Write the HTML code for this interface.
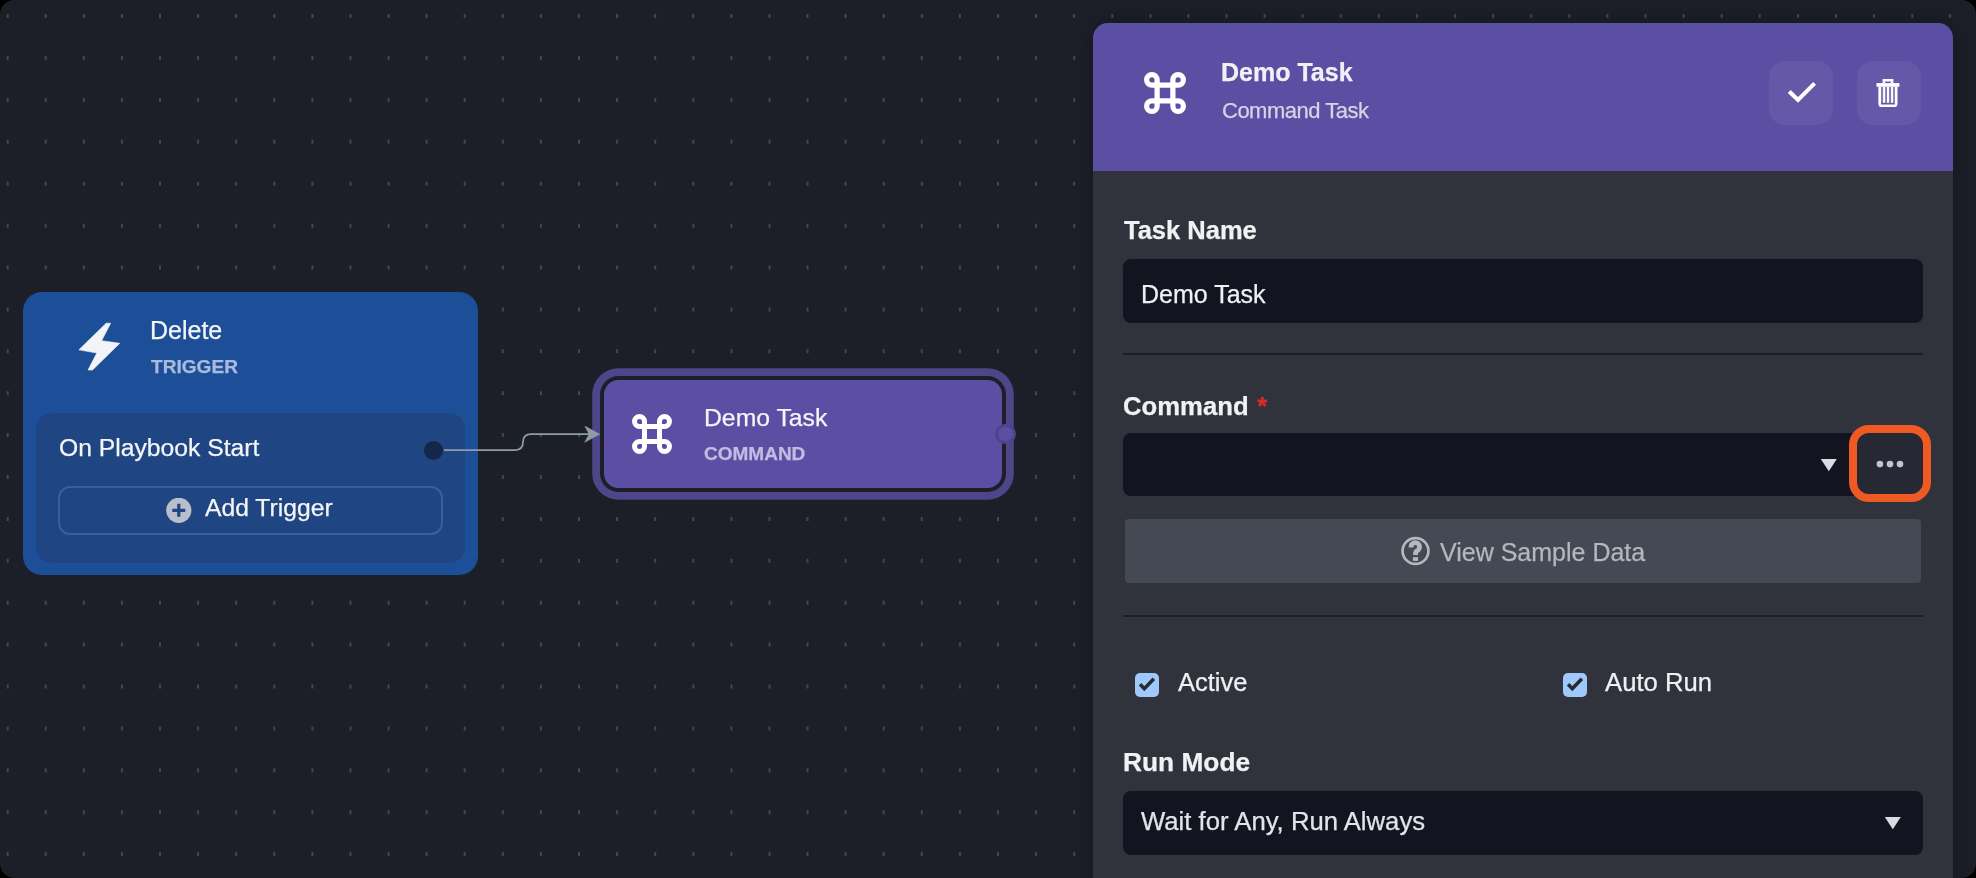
<!DOCTYPE html>
<html><head><meta charset="utf-8">
<style>
html,body{margin:0;padding:0;background:#000;width:1976px;height:878px;overflow:hidden;}
*{box-sizing:border-box;}
body{font-family:"Liberation Sans",sans-serif;}
#win{position:absolute;left:0;top:0;width:1976px;height:878px;border-radius:14.5px;background:#1c1f28;overflow:hidden;}
.abs{position:absolute;}
.t{position:absolute;white-space:nowrap;line-height:1;-webkit-text-stroke:0.25px currentColor;}
svg,.t{will-change:transform;}
#grid{position:absolute;left:0;top:0;}
/* trigger card */
#trig{position:absolute;left:22.9px;top:292.3px;width:455.5px;height:283px;border-radius:19px;background:#1d4f99;}
#trigIn{position:absolute;left:36px;top:413.4px;width:429px;height:149.6px;border-radius:16px;background:#1f4583;}
#addBtn{position:absolute;left:58px;top:486px;width:385px;height:49px;border-radius:12px;border:2px solid rgba(150,178,222,0.24);}
#handle{position:absolute;left:424px;top:441px;width:19px;height:19px;border-radius:50%;background:#142748;}
/* command node */
#node{position:absolute;left:604.1px;top:380px;width:398.1px;height:107.8px;border-radius:14.5px;background:#5b4ea3;
 box-shadow:0 0 0 3.95px #1c1f28,0 0 0 11.8px #4f4589;}
#nhandle{position:absolute;left:995.35px;top:423.55px;width:20.5px;height:20.5px;border-radius:50%;background:#5b4ea3;border:3.3px solid #4e448a;}
/* panel */
#panel{position:absolute;left:1093px;top:23px;width:860px;height:900px;border-radius:15px;background:#30333c;overflow:hidden;
 box-shadow:0 0 20px 2px rgba(0,0,0,0.22);}
#phead{position:absolute;left:0;top:0;width:860px;height:148px;background:#5c4ea3;}
.hbtn{position:absolute;top:38px;width:64px;height:64px;border-radius:16px;background:rgba(255,255,255,0.06);}
.inp{position:absolute;left:30px;width:800px;height:63px;border-radius:8px;background:#12151f;}
.div{position:absolute;left:30px;width:800px;height:2px;background:#1b1e27;}
.lbl{font-weight:bold;color:#f1f2f4;font-size:25.5px;}
.cb{position:absolute;width:24px;height:24px;border-radius:5px;background:#9fc9fb;}
</style></head><body>
<div id="win">
<svg id="grid" width="1976" height="878"><path fill="#474747" d="M6.7 14.1h2v4h-2zM6.7 56.0h2v4h-2zM6.7 97.9h2v4h-2zM6.7 139.8h2v4h-2zM6.7 181.8h2v4h-2zM6.7 223.7h2v4h-2zM6.7 265.5h2v4h-2zM6.7 307.4h2v4h-2zM6.7 349.3h2v4h-2zM6.7 391.2h2v4h-2zM6.7 433.1h2v4h-2zM6.7 475.0h2v4h-2zM6.7 516.9h2v4h-2zM6.7 558.8h2v4h-2zM6.7 600.8h2v4h-2zM6.7 642.6h2v4h-2zM6.7 684.5h2v4h-2zM6.7 726.4h2v4h-2zM6.7 768.3h2v4h-2zM6.7 810.2h2v4h-2zM6.7 852.1h2v4h-2zM44.7 14.1h2v4h-2zM44.7 56.0h2v4h-2zM44.7 97.9h2v4h-2zM44.7 139.8h2v4h-2zM44.7 181.8h2v4h-2zM44.7 223.7h2v4h-2zM44.7 265.5h2v4h-2zM44.7 307.4h2v4h-2zM44.7 349.3h2v4h-2zM44.7 391.2h2v4h-2zM44.7 433.1h2v4h-2zM44.7 475.0h2v4h-2zM44.7 516.9h2v4h-2zM44.7 558.8h2v4h-2zM44.7 600.8h2v4h-2zM44.7 642.6h2v4h-2zM44.7 684.5h2v4h-2zM44.7 726.4h2v4h-2zM44.7 768.3h2v4h-2zM44.7 810.2h2v4h-2zM44.7 852.1h2v4h-2zM82.8 14.1h2v4h-2zM82.8 56.0h2v4h-2zM82.8 97.9h2v4h-2zM82.8 139.8h2v4h-2zM82.8 181.8h2v4h-2zM82.8 223.7h2v4h-2zM82.8 265.5h2v4h-2zM82.8 307.4h2v4h-2zM82.8 349.3h2v4h-2zM82.8 391.2h2v4h-2zM82.8 433.1h2v4h-2zM82.8 475.0h2v4h-2zM82.8 516.9h2v4h-2zM82.8 558.8h2v4h-2zM82.8 600.8h2v4h-2zM82.8 642.6h2v4h-2zM82.8 684.5h2v4h-2zM82.8 726.4h2v4h-2zM82.8 768.3h2v4h-2zM82.8 810.2h2v4h-2zM82.8 852.1h2v4h-2zM120.9 14.1h2v4h-2zM120.9 56.0h2v4h-2zM120.9 97.9h2v4h-2zM120.9 139.8h2v4h-2zM120.9 181.8h2v4h-2zM120.9 223.7h2v4h-2zM120.9 265.5h2v4h-2zM120.9 307.4h2v4h-2zM120.9 349.3h2v4h-2zM120.9 391.2h2v4h-2zM120.9 433.1h2v4h-2zM120.9 475.0h2v4h-2zM120.9 516.9h2v4h-2zM120.9 558.8h2v4h-2zM120.9 600.8h2v4h-2zM120.9 642.6h2v4h-2zM120.9 684.5h2v4h-2zM120.9 726.4h2v4h-2zM120.9 768.3h2v4h-2zM120.9 810.2h2v4h-2zM120.9 852.1h2v4h-2zM159.0 14.1h2v4h-2zM159.0 56.0h2v4h-2zM159.0 97.9h2v4h-2zM159.0 139.8h2v4h-2zM159.0 181.8h2v4h-2zM159.0 223.7h2v4h-2zM159.0 265.5h2v4h-2zM159.0 307.4h2v4h-2zM159.0 349.3h2v4h-2zM159.0 391.2h2v4h-2zM159.0 433.1h2v4h-2zM159.0 475.0h2v4h-2zM159.0 516.9h2v4h-2zM159.0 558.8h2v4h-2zM159.0 600.8h2v4h-2zM159.0 642.6h2v4h-2zM159.0 684.5h2v4h-2zM159.0 726.4h2v4h-2zM159.0 768.3h2v4h-2zM159.0 810.2h2v4h-2zM159.0 852.1h2v4h-2zM197.1 14.1h2v4h-2zM197.1 56.0h2v4h-2zM197.1 97.9h2v4h-2zM197.1 139.8h2v4h-2zM197.1 181.8h2v4h-2zM197.1 223.7h2v4h-2zM197.1 265.5h2v4h-2zM197.1 307.4h2v4h-2zM197.1 349.3h2v4h-2zM197.1 391.2h2v4h-2zM197.1 433.1h2v4h-2zM197.1 475.0h2v4h-2zM197.1 516.9h2v4h-2zM197.1 558.8h2v4h-2zM197.1 600.8h2v4h-2zM197.1 642.6h2v4h-2zM197.1 684.5h2v4h-2zM197.1 726.4h2v4h-2zM197.1 768.3h2v4h-2zM197.1 810.2h2v4h-2zM197.1 852.1h2v4h-2zM235.2 14.1h2v4h-2zM235.2 56.0h2v4h-2zM235.2 97.9h2v4h-2zM235.2 139.8h2v4h-2zM235.2 181.8h2v4h-2zM235.2 223.7h2v4h-2zM235.2 265.5h2v4h-2zM235.2 307.4h2v4h-2zM235.2 349.3h2v4h-2zM235.2 391.2h2v4h-2zM235.2 433.1h2v4h-2zM235.2 475.0h2v4h-2zM235.2 516.9h2v4h-2zM235.2 558.8h2v4h-2zM235.2 600.8h2v4h-2zM235.2 642.6h2v4h-2zM235.2 684.5h2v4h-2zM235.2 726.4h2v4h-2zM235.2 768.3h2v4h-2zM235.2 810.2h2v4h-2zM235.2 852.1h2v4h-2zM273.3 14.1h2v4h-2zM273.3 56.0h2v4h-2zM273.3 97.9h2v4h-2zM273.3 139.8h2v4h-2zM273.3 181.8h2v4h-2zM273.3 223.7h2v4h-2zM273.3 265.5h2v4h-2zM273.3 307.4h2v4h-2zM273.3 349.3h2v4h-2zM273.3 391.2h2v4h-2zM273.3 433.1h2v4h-2zM273.3 475.0h2v4h-2zM273.3 516.9h2v4h-2zM273.3 558.8h2v4h-2zM273.3 600.8h2v4h-2zM273.3 642.6h2v4h-2zM273.3 684.5h2v4h-2zM273.3 726.4h2v4h-2zM273.3 768.3h2v4h-2zM273.3 810.2h2v4h-2zM273.3 852.1h2v4h-2zM311.4 14.1h2v4h-2zM311.4 56.0h2v4h-2zM311.4 97.9h2v4h-2zM311.4 139.8h2v4h-2zM311.4 181.8h2v4h-2zM311.4 223.7h2v4h-2zM311.4 265.5h2v4h-2zM311.4 307.4h2v4h-2zM311.4 349.3h2v4h-2zM311.4 391.2h2v4h-2zM311.4 433.1h2v4h-2zM311.4 475.0h2v4h-2zM311.4 516.9h2v4h-2zM311.4 558.8h2v4h-2zM311.4 600.8h2v4h-2zM311.4 642.6h2v4h-2zM311.4 684.5h2v4h-2zM311.4 726.4h2v4h-2zM311.4 768.3h2v4h-2zM311.4 810.2h2v4h-2zM311.4 852.1h2v4h-2zM349.5 14.1h2v4h-2zM349.5 56.0h2v4h-2zM349.5 97.9h2v4h-2zM349.5 139.8h2v4h-2zM349.5 181.8h2v4h-2zM349.5 223.7h2v4h-2zM349.5 265.5h2v4h-2zM349.5 307.4h2v4h-2zM349.5 349.3h2v4h-2zM349.5 391.2h2v4h-2zM349.5 433.1h2v4h-2zM349.5 475.0h2v4h-2zM349.5 516.9h2v4h-2zM349.5 558.8h2v4h-2zM349.5 600.8h2v4h-2zM349.5 642.6h2v4h-2zM349.5 684.5h2v4h-2zM349.5 726.4h2v4h-2zM349.5 768.3h2v4h-2zM349.5 810.2h2v4h-2zM349.5 852.1h2v4h-2zM387.6 14.1h2v4h-2zM387.6 56.0h2v4h-2zM387.6 97.9h2v4h-2zM387.6 139.8h2v4h-2zM387.6 181.8h2v4h-2zM387.6 223.7h2v4h-2zM387.6 265.5h2v4h-2zM387.6 307.4h2v4h-2zM387.6 349.3h2v4h-2zM387.6 391.2h2v4h-2zM387.6 433.1h2v4h-2zM387.6 475.0h2v4h-2zM387.6 516.9h2v4h-2zM387.6 558.8h2v4h-2zM387.6 600.8h2v4h-2zM387.6 642.6h2v4h-2zM387.6 684.5h2v4h-2zM387.6 726.4h2v4h-2zM387.6 768.3h2v4h-2zM387.6 810.2h2v4h-2zM387.6 852.1h2v4h-2zM425.6 14.1h2v4h-2zM425.6 56.0h2v4h-2zM425.6 97.9h2v4h-2zM425.6 139.8h2v4h-2zM425.6 181.8h2v4h-2zM425.6 223.7h2v4h-2zM425.6 265.5h2v4h-2zM425.6 307.4h2v4h-2zM425.6 349.3h2v4h-2zM425.6 391.2h2v4h-2zM425.6 433.1h2v4h-2zM425.6 475.0h2v4h-2zM425.6 516.9h2v4h-2zM425.6 558.8h2v4h-2zM425.6 600.8h2v4h-2zM425.6 642.6h2v4h-2zM425.6 684.5h2v4h-2zM425.6 726.4h2v4h-2zM425.6 768.3h2v4h-2zM425.6 810.2h2v4h-2zM425.6 852.1h2v4h-2zM463.7 14.1h2v4h-2zM463.7 56.0h2v4h-2zM463.7 97.9h2v4h-2zM463.7 139.8h2v4h-2zM463.7 181.8h2v4h-2zM463.7 223.7h2v4h-2zM463.7 265.5h2v4h-2zM463.7 307.4h2v4h-2zM463.7 349.3h2v4h-2zM463.7 391.2h2v4h-2zM463.7 433.1h2v4h-2zM463.7 475.0h2v4h-2zM463.7 516.9h2v4h-2zM463.7 558.8h2v4h-2zM463.7 600.8h2v4h-2zM463.7 642.6h2v4h-2zM463.7 684.5h2v4h-2zM463.7 726.4h2v4h-2zM463.7 768.3h2v4h-2zM463.7 810.2h2v4h-2zM463.7 852.1h2v4h-2zM501.8 14.1h2v4h-2zM501.8 56.0h2v4h-2zM501.8 97.9h2v4h-2zM501.8 139.8h2v4h-2zM501.8 181.8h2v4h-2zM501.8 223.7h2v4h-2zM501.8 265.5h2v4h-2zM501.8 307.4h2v4h-2zM501.8 349.3h2v4h-2zM501.8 391.2h2v4h-2zM501.8 433.1h2v4h-2zM501.8 475.0h2v4h-2zM501.8 516.9h2v4h-2zM501.8 558.8h2v4h-2zM501.8 600.8h2v4h-2zM501.8 642.6h2v4h-2zM501.8 684.5h2v4h-2zM501.8 726.4h2v4h-2zM501.8 768.3h2v4h-2zM501.8 810.2h2v4h-2zM501.8 852.1h2v4h-2zM539.9 14.1h2v4h-2zM539.9 56.0h2v4h-2zM539.9 97.9h2v4h-2zM539.9 139.8h2v4h-2zM539.9 181.8h2v4h-2zM539.9 223.7h2v4h-2zM539.9 265.5h2v4h-2zM539.9 307.4h2v4h-2zM539.9 349.3h2v4h-2zM539.9 391.2h2v4h-2zM539.9 433.1h2v4h-2zM539.9 475.0h2v4h-2zM539.9 516.9h2v4h-2zM539.9 558.8h2v4h-2zM539.9 600.8h2v4h-2zM539.9 642.6h2v4h-2zM539.9 684.5h2v4h-2zM539.9 726.4h2v4h-2zM539.9 768.3h2v4h-2zM539.9 810.2h2v4h-2zM539.9 852.1h2v4h-2zM578.0 14.1h2v4h-2zM578.0 56.0h2v4h-2zM578.0 97.9h2v4h-2zM578.0 139.8h2v4h-2zM578.0 181.8h2v4h-2zM578.0 223.7h2v4h-2zM578.0 265.5h2v4h-2zM578.0 307.4h2v4h-2zM578.0 349.3h2v4h-2zM578.0 391.2h2v4h-2zM578.0 433.1h2v4h-2zM578.0 475.0h2v4h-2zM578.0 516.9h2v4h-2zM578.0 558.8h2v4h-2zM578.0 600.8h2v4h-2zM578.0 642.6h2v4h-2zM578.0 684.5h2v4h-2zM578.0 726.4h2v4h-2zM578.0 768.3h2v4h-2zM578.0 810.2h2v4h-2zM578.0 852.1h2v4h-2zM616.1 14.1h2v4h-2zM616.1 56.0h2v4h-2zM616.1 97.9h2v4h-2zM616.1 139.8h2v4h-2zM616.1 181.8h2v4h-2zM616.1 223.7h2v4h-2zM616.1 265.5h2v4h-2zM616.1 307.4h2v4h-2zM616.1 349.3h2v4h-2zM616.1 391.2h2v4h-2zM616.1 433.1h2v4h-2zM616.1 475.0h2v4h-2zM616.1 516.9h2v4h-2zM616.1 558.8h2v4h-2zM616.1 600.8h2v4h-2zM616.1 642.6h2v4h-2zM616.1 684.5h2v4h-2zM616.1 726.4h2v4h-2zM616.1 768.3h2v4h-2zM616.1 810.2h2v4h-2zM616.1 852.1h2v4h-2zM654.2 14.1h2v4h-2zM654.2 56.0h2v4h-2zM654.2 97.9h2v4h-2zM654.2 139.8h2v4h-2zM654.2 181.8h2v4h-2zM654.2 223.7h2v4h-2zM654.2 265.5h2v4h-2zM654.2 307.4h2v4h-2zM654.2 349.3h2v4h-2zM654.2 391.2h2v4h-2zM654.2 433.1h2v4h-2zM654.2 475.0h2v4h-2zM654.2 516.9h2v4h-2zM654.2 558.8h2v4h-2zM654.2 600.8h2v4h-2zM654.2 642.6h2v4h-2zM654.2 684.5h2v4h-2zM654.2 726.4h2v4h-2zM654.2 768.3h2v4h-2zM654.2 810.2h2v4h-2zM654.2 852.1h2v4h-2zM692.3 14.1h2v4h-2zM692.3 56.0h2v4h-2zM692.3 97.9h2v4h-2zM692.3 139.8h2v4h-2zM692.3 181.8h2v4h-2zM692.3 223.7h2v4h-2zM692.3 265.5h2v4h-2zM692.3 307.4h2v4h-2zM692.3 349.3h2v4h-2zM692.3 391.2h2v4h-2zM692.3 433.1h2v4h-2zM692.3 475.0h2v4h-2zM692.3 516.9h2v4h-2zM692.3 558.8h2v4h-2zM692.3 600.8h2v4h-2zM692.3 642.6h2v4h-2zM692.3 684.5h2v4h-2zM692.3 726.4h2v4h-2zM692.3 768.3h2v4h-2zM692.3 810.2h2v4h-2zM692.3 852.1h2v4h-2zM730.4 14.1h2v4h-2zM730.4 56.0h2v4h-2zM730.4 97.9h2v4h-2zM730.4 139.8h2v4h-2zM730.4 181.8h2v4h-2zM730.4 223.7h2v4h-2zM730.4 265.5h2v4h-2zM730.4 307.4h2v4h-2zM730.4 349.3h2v4h-2zM730.4 391.2h2v4h-2zM730.4 433.1h2v4h-2zM730.4 475.0h2v4h-2zM730.4 516.9h2v4h-2zM730.4 558.8h2v4h-2zM730.4 600.8h2v4h-2zM730.4 642.6h2v4h-2zM730.4 684.5h2v4h-2zM730.4 726.4h2v4h-2zM730.4 768.3h2v4h-2zM730.4 810.2h2v4h-2zM730.4 852.1h2v4h-2zM768.5 14.1h2v4h-2zM768.5 56.0h2v4h-2zM768.5 97.9h2v4h-2zM768.5 139.8h2v4h-2zM768.5 181.8h2v4h-2zM768.5 223.7h2v4h-2zM768.5 265.5h2v4h-2zM768.5 307.4h2v4h-2zM768.5 349.3h2v4h-2zM768.5 391.2h2v4h-2zM768.5 433.1h2v4h-2zM768.5 475.0h2v4h-2zM768.5 516.9h2v4h-2zM768.5 558.8h2v4h-2zM768.5 600.8h2v4h-2zM768.5 642.6h2v4h-2zM768.5 684.5h2v4h-2zM768.5 726.4h2v4h-2zM768.5 768.3h2v4h-2zM768.5 810.2h2v4h-2zM768.5 852.1h2v4h-2zM806.5 14.1h2v4h-2zM806.5 56.0h2v4h-2zM806.5 97.9h2v4h-2zM806.5 139.8h2v4h-2zM806.5 181.8h2v4h-2zM806.5 223.7h2v4h-2zM806.5 265.5h2v4h-2zM806.5 307.4h2v4h-2zM806.5 349.3h2v4h-2zM806.5 391.2h2v4h-2zM806.5 433.1h2v4h-2zM806.5 475.0h2v4h-2zM806.5 516.9h2v4h-2zM806.5 558.8h2v4h-2zM806.5 600.8h2v4h-2zM806.5 642.6h2v4h-2zM806.5 684.5h2v4h-2zM806.5 726.4h2v4h-2zM806.5 768.3h2v4h-2zM806.5 810.2h2v4h-2zM806.5 852.1h2v4h-2zM844.6 14.1h2v4h-2zM844.6 56.0h2v4h-2zM844.6 97.9h2v4h-2zM844.6 139.8h2v4h-2zM844.6 181.8h2v4h-2zM844.6 223.7h2v4h-2zM844.6 265.5h2v4h-2zM844.6 307.4h2v4h-2zM844.6 349.3h2v4h-2zM844.6 391.2h2v4h-2zM844.6 433.1h2v4h-2zM844.6 475.0h2v4h-2zM844.6 516.9h2v4h-2zM844.6 558.8h2v4h-2zM844.6 600.8h2v4h-2zM844.6 642.6h2v4h-2zM844.6 684.5h2v4h-2zM844.6 726.4h2v4h-2zM844.6 768.3h2v4h-2zM844.6 810.2h2v4h-2zM844.6 852.1h2v4h-2zM882.7 14.1h2v4h-2zM882.7 56.0h2v4h-2zM882.7 97.9h2v4h-2zM882.7 139.8h2v4h-2zM882.7 181.8h2v4h-2zM882.7 223.7h2v4h-2zM882.7 265.5h2v4h-2zM882.7 307.4h2v4h-2zM882.7 349.3h2v4h-2zM882.7 391.2h2v4h-2zM882.7 433.1h2v4h-2zM882.7 475.0h2v4h-2zM882.7 516.9h2v4h-2zM882.7 558.8h2v4h-2zM882.7 600.8h2v4h-2zM882.7 642.6h2v4h-2zM882.7 684.5h2v4h-2zM882.7 726.4h2v4h-2zM882.7 768.3h2v4h-2zM882.7 810.2h2v4h-2zM882.7 852.1h2v4h-2zM920.8 14.1h2v4h-2zM920.8 56.0h2v4h-2zM920.8 97.9h2v4h-2zM920.8 139.8h2v4h-2zM920.8 181.8h2v4h-2zM920.8 223.7h2v4h-2zM920.8 265.5h2v4h-2zM920.8 307.4h2v4h-2zM920.8 349.3h2v4h-2zM920.8 391.2h2v4h-2zM920.8 433.1h2v4h-2zM920.8 475.0h2v4h-2zM920.8 516.9h2v4h-2zM920.8 558.8h2v4h-2zM920.8 600.8h2v4h-2zM920.8 642.6h2v4h-2zM920.8 684.5h2v4h-2zM920.8 726.4h2v4h-2zM920.8 768.3h2v4h-2zM920.8 810.2h2v4h-2zM920.8 852.1h2v4h-2zM958.9 14.1h2v4h-2zM958.9 56.0h2v4h-2zM958.9 97.9h2v4h-2zM958.9 139.8h2v4h-2zM958.9 181.8h2v4h-2zM958.9 223.7h2v4h-2zM958.9 265.5h2v4h-2zM958.9 307.4h2v4h-2zM958.9 349.3h2v4h-2zM958.9 391.2h2v4h-2zM958.9 433.1h2v4h-2zM958.9 475.0h2v4h-2zM958.9 516.9h2v4h-2zM958.9 558.8h2v4h-2zM958.9 600.8h2v4h-2zM958.9 642.6h2v4h-2zM958.9 684.5h2v4h-2zM958.9 726.4h2v4h-2zM958.9 768.3h2v4h-2zM958.9 810.2h2v4h-2zM958.9 852.1h2v4h-2zM997.0 14.1h2v4h-2zM997.0 56.0h2v4h-2zM997.0 97.9h2v4h-2zM997.0 139.8h2v4h-2zM997.0 181.8h2v4h-2zM997.0 223.7h2v4h-2zM997.0 265.5h2v4h-2zM997.0 307.4h2v4h-2zM997.0 349.3h2v4h-2zM997.0 391.2h2v4h-2zM997.0 433.1h2v4h-2zM997.0 475.0h2v4h-2zM997.0 516.9h2v4h-2zM997.0 558.8h2v4h-2zM997.0 600.8h2v4h-2zM997.0 642.6h2v4h-2zM997.0 684.5h2v4h-2zM997.0 726.4h2v4h-2zM997.0 768.3h2v4h-2zM997.0 810.2h2v4h-2zM997.0 852.1h2v4h-2zM1035.1 14.1h2v4h-2zM1035.1 56.0h2v4h-2zM1035.1 97.9h2v4h-2zM1035.1 139.8h2v4h-2zM1035.1 181.8h2v4h-2zM1035.1 223.7h2v4h-2zM1035.1 265.5h2v4h-2zM1035.1 307.4h2v4h-2zM1035.1 349.3h2v4h-2zM1035.1 391.2h2v4h-2zM1035.1 433.1h2v4h-2zM1035.1 475.0h2v4h-2zM1035.1 516.9h2v4h-2zM1035.1 558.8h2v4h-2zM1035.1 600.8h2v4h-2zM1035.1 642.6h2v4h-2zM1035.1 684.5h2v4h-2zM1035.1 726.4h2v4h-2zM1035.1 768.3h2v4h-2zM1035.1 810.2h2v4h-2zM1035.1 852.1h2v4h-2zM1073.2 14.1h2v4h-2zM1073.2 56.0h2v4h-2zM1073.2 97.9h2v4h-2zM1073.2 139.8h2v4h-2zM1073.2 181.8h2v4h-2zM1073.2 223.7h2v4h-2zM1073.2 265.5h2v4h-2zM1073.2 307.4h2v4h-2zM1073.2 349.3h2v4h-2zM1073.2 391.2h2v4h-2zM1073.2 433.1h2v4h-2zM1073.2 475.0h2v4h-2zM1073.2 516.9h2v4h-2zM1073.2 558.8h2v4h-2zM1073.2 600.8h2v4h-2zM1073.2 642.6h2v4h-2zM1073.2 684.5h2v4h-2zM1073.2 726.4h2v4h-2zM1073.2 768.3h2v4h-2zM1073.2 810.2h2v4h-2zM1073.2 852.1h2v4h-2zM1111.3 14.1h2v4h-2zM1111.3 56.0h2v4h-2zM1111.3 97.9h2v4h-2zM1111.3 139.8h2v4h-2zM1111.3 181.8h2v4h-2zM1111.3 223.7h2v4h-2zM1111.3 265.5h2v4h-2zM1111.3 307.4h2v4h-2zM1111.3 349.3h2v4h-2zM1111.3 391.2h2v4h-2zM1111.3 433.1h2v4h-2zM1111.3 475.0h2v4h-2zM1111.3 516.9h2v4h-2zM1111.3 558.8h2v4h-2zM1111.3 600.8h2v4h-2zM1111.3 642.6h2v4h-2zM1111.3 684.5h2v4h-2zM1111.3 726.4h2v4h-2zM1111.3 768.3h2v4h-2zM1111.3 810.2h2v4h-2zM1111.3 852.1h2v4h-2zM1149.4 14.1h2v4h-2zM1149.4 56.0h2v4h-2zM1149.4 97.9h2v4h-2zM1149.4 139.8h2v4h-2zM1149.4 181.8h2v4h-2zM1149.4 223.7h2v4h-2zM1149.4 265.5h2v4h-2zM1149.4 307.4h2v4h-2zM1149.4 349.3h2v4h-2zM1149.4 391.2h2v4h-2zM1149.4 433.1h2v4h-2zM1149.4 475.0h2v4h-2zM1149.4 516.9h2v4h-2zM1149.4 558.8h2v4h-2zM1149.4 600.8h2v4h-2zM1149.4 642.6h2v4h-2zM1149.4 684.5h2v4h-2zM1149.4 726.4h2v4h-2zM1149.4 768.3h2v4h-2zM1149.4 810.2h2v4h-2zM1149.4 852.1h2v4h-2zM1187.4 14.1h2v4h-2zM1187.4 56.0h2v4h-2zM1187.4 97.9h2v4h-2zM1187.4 139.8h2v4h-2zM1187.4 181.8h2v4h-2zM1187.4 223.7h2v4h-2zM1187.4 265.5h2v4h-2zM1187.4 307.4h2v4h-2zM1187.4 349.3h2v4h-2zM1187.4 391.2h2v4h-2zM1187.4 433.1h2v4h-2zM1187.4 475.0h2v4h-2zM1187.4 516.9h2v4h-2zM1187.4 558.8h2v4h-2zM1187.4 600.8h2v4h-2zM1187.4 642.6h2v4h-2zM1187.4 684.5h2v4h-2zM1187.4 726.4h2v4h-2zM1187.4 768.3h2v4h-2zM1187.4 810.2h2v4h-2zM1187.4 852.1h2v4h-2zM1225.5 14.1h2v4h-2zM1225.5 56.0h2v4h-2zM1225.5 97.9h2v4h-2zM1225.5 139.8h2v4h-2zM1225.5 181.8h2v4h-2zM1225.5 223.7h2v4h-2zM1225.5 265.5h2v4h-2zM1225.5 307.4h2v4h-2zM1225.5 349.3h2v4h-2zM1225.5 391.2h2v4h-2zM1225.5 433.1h2v4h-2zM1225.5 475.0h2v4h-2zM1225.5 516.9h2v4h-2zM1225.5 558.8h2v4h-2zM1225.5 600.8h2v4h-2zM1225.5 642.6h2v4h-2zM1225.5 684.5h2v4h-2zM1225.5 726.4h2v4h-2zM1225.5 768.3h2v4h-2zM1225.5 810.2h2v4h-2zM1225.5 852.1h2v4h-2zM1263.6 14.1h2v4h-2zM1263.6 56.0h2v4h-2zM1263.6 97.9h2v4h-2zM1263.6 139.8h2v4h-2zM1263.6 181.8h2v4h-2zM1263.6 223.7h2v4h-2zM1263.6 265.5h2v4h-2zM1263.6 307.4h2v4h-2zM1263.6 349.3h2v4h-2zM1263.6 391.2h2v4h-2zM1263.6 433.1h2v4h-2zM1263.6 475.0h2v4h-2zM1263.6 516.9h2v4h-2zM1263.6 558.8h2v4h-2zM1263.6 600.8h2v4h-2zM1263.6 642.6h2v4h-2zM1263.6 684.5h2v4h-2zM1263.6 726.4h2v4h-2zM1263.6 768.3h2v4h-2zM1263.6 810.2h2v4h-2zM1263.6 852.1h2v4h-2zM1301.7 14.1h2v4h-2zM1301.7 56.0h2v4h-2zM1301.7 97.9h2v4h-2zM1301.7 139.8h2v4h-2zM1301.7 181.8h2v4h-2zM1301.7 223.7h2v4h-2zM1301.7 265.5h2v4h-2zM1301.7 307.4h2v4h-2zM1301.7 349.3h2v4h-2zM1301.7 391.2h2v4h-2zM1301.7 433.1h2v4h-2zM1301.7 475.0h2v4h-2zM1301.7 516.9h2v4h-2zM1301.7 558.8h2v4h-2zM1301.7 600.8h2v4h-2zM1301.7 642.6h2v4h-2zM1301.7 684.5h2v4h-2zM1301.7 726.4h2v4h-2zM1301.7 768.3h2v4h-2zM1301.7 810.2h2v4h-2zM1301.7 852.1h2v4h-2zM1339.8 14.1h2v4h-2zM1339.8 56.0h2v4h-2zM1339.8 97.9h2v4h-2zM1339.8 139.8h2v4h-2zM1339.8 181.8h2v4h-2zM1339.8 223.7h2v4h-2zM1339.8 265.5h2v4h-2zM1339.8 307.4h2v4h-2zM1339.8 349.3h2v4h-2zM1339.8 391.2h2v4h-2zM1339.8 433.1h2v4h-2zM1339.8 475.0h2v4h-2zM1339.8 516.9h2v4h-2zM1339.8 558.8h2v4h-2zM1339.8 600.8h2v4h-2zM1339.8 642.6h2v4h-2zM1339.8 684.5h2v4h-2zM1339.8 726.4h2v4h-2zM1339.8 768.3h2v4h-2zM1339.8 810.2h2v4h-2zM1339.8 852.1h2v4h-2zM1377.9 14.1h2v4h-2zM1377.9 56.0h2v4h-2zM1377.9 97.9h2v4h-2zM1377.9 139.8h2v4h-2zM1377.9 181.8h2v4h-2zM1377.9 223.7h2v4h-2zM1377.9 265.5h2v4h-2zM1377.9 307.4h2v4h-2zM1377.9 349.3h2v4h-2zM1377.9 391.2h2v4h-2zM1377.9 433.1h2v4h-2zM1377.9 475.0h2v4h-2zM1377.9 516.9h2v4h-2zM1377.9 558.8h2v4h-2zM1377.9 600.8h2v4h-2zM1377.9 642.6h2v4h-2zM1377.9 684.5h2v4h-2zM1377.9 726.4h2v4h-2zM1377.9 768.3h2v4h-2zM1377.9 810.2h2v4h-2zM1377.9 852.1h2v4h-2zM1416.0 14.1h2v4h-2zM1416.0 56.0h2v4h-2zM1416.0 97.9h2v4h-2zM1416.0 139.8h2v4h-2zM1416.0 181.8h2v4h-2zM1416.0 223.7h2v4h-2zM1416.0 265.5h2v4h-2zM1416.0 307.4h2v4h-2zM1416.0 349.3h2v4h-2zM1416.0 391.2h2v4h-2zM1416.0 433.1h2v4h-2zM1416.0 475.0h2v4h-2zM1416.0 516.9h2v4h-2zM1416.0 558.8h2v4h-2zM1416.0 600.8h2v4h-2zM1416.0 642.6h2v4h-2zM1416.0 684.5h2v4h-2zM1416.0 726.4h2v4h-2zM1416.0 768.3h2v4h-2zM1416.0 810.2h2v4h-2zM1416.0 852.1h2v4h-2zM1454.1 14.1h2v4h-2zM1454.1 56.0h2v4h-2zM1454.1 97.9h2v4h-2zM1454.1 139.8h2v4h-2zM1454.1 181.8h2v4h-2zM1454.1 223.7h2v4h-2zM1454.1 265.5h2v4h-2zM1454.1 307.4h2v4h-2zM1454.1 349.3h2v4h-2zM1454.1 391.2h2v4h-2zM1454.1 433.1h2v4h-2zM1454.1 475.0h2v4h-2zM1454.1 516.9h2v4h-2zM1454.1 558.8h2v4h-2zM1454.1 600.8h2v4h-2zM1454.1 642.6h2v4h-2zM1454.1 684.5h2v4h-2zM1454.1 726.4h2v4h-2zM1454.1 768.3h2v4h-2zM1454.1 810.2h2v4h-2zM1454.1 852.1h2v4h-2zM1492.2 14.1h2v4h-2zM1492.2 56.0h2v4h-2zM1492.2 97.9h2v4h-2zM1492.2 139.8h2v4h-2zM1492.2 181.8h2v4h-2zM1492.2 223.7h2v4h-2zM1492.2 265.5h2v4h-2zM1492.2 307.4h2v4h-2zM1492.2 349.3h2v4h-2zM1492.2 391.2h2v4h-2zM1492.2 433.1h2v4h-2zM1492.2 475.0h2v4h-2zM1492.2 516.9h2v4h-2zM1492.2 558.8h2v4h-2zM1492.2 600.8h2v4h-2zM1492.2 642.6h2v4h-2zM1492.2 684.5h2v4h-2zM1492.2 726.4h2v4h-2zM1492.2 768.3h2v4h-2zM1492.2 810.2h2v4h-2zM1492.2 852.1h2v4h-2zM1530.3 14.1h2v4h-2zM1530.3 56.0h2v4h-2zM1530.3 97.9h2v4h-2zM1530.3 139.8h2v4h-2zM1530.3 181.8h2v4h-2zM1530.3 223.7h2v4h-2zM1530.3 265.5h2v4h-2zM1530.3 307.4h2v4h-2zM1530.3 349.3h2v4h-2zM1530.3 391.2h2v4h-2zM1530.3 433.1h2v4h-2zM1530.3 475.0h2v4h-2zM1530.3 516.9h2v4h-2zM1530.3 558.8h2v4h-2zM1530.3 600.8h2v4h-2zM1530.3 642.6h2v4h-2zM1530.3 684.5h2v4h-2zM1530.3 726.4h2v4h-2zM1530.3 768.3h2v4h-2zM1530.3 810.2h2v4h-2zM1530.3 852.1h2v4h-2zM1568.3 14.1h2v4h-2zM1568.3 56.0h2v4h-2zM1568.3 97.9h2v4h-2zM1568.3 139.8h2v4h-2zM1568.3 181.8h2v4h-2zM1568.3 223.7h2v4h-2zM1568.3 265.5h2v4h-2zM1568.3 307.4h2v4h-2zM1568.3 349.3h2v4h-2zM1568.3 391.2h2v4h-2zM1568.3 433.1h2v4h-2zM1568.3 475.0h2v4h-2zM1568.3 516.9h2v4h-2zM1568.3 558.8h2v4h-2zM1568.3 600.8h2v4h-2zM1568.3 642.6h2v4h-2zM1568.3 684.5h2v4h-2zM1568.3 726.4h2v4h-2zM1568.3 768.3h2v4h-2zM1568.3 810.2h2v4h-2zM1568.3 852.1h2v4h-2zM1606.4 14.1h2v4h-2zM1606.4 56.0h2v4h-2zM1606.4 97.9h2v4h-2zM1606.4 139.8h2v4h-2zM1606.4 181.8h2v4h-2zM1606.4 223.7h2v4h-2zM1606.4 265.5h2v4h-2zM1606.4 307.4h2v4h-2zM1606.4 349.3h2v4h-2zM1606.4 391.2h2v4h-2zM1606.4 433.1h2v4h-2zM1606.4 475.0h2v4h-2zM1606.4 516.9h2v4h-2zM1606.4 558.8h2v4h-2zM1606.4 600.8h2v4h-2zM1606.4 642.6h2v4h-2zM1606.4 684.5h2v4h-2zM1606.4 726.4h2v4h-2zM1606.4 768.3h2v4h-2zM1606.4 810.2h2v4h-2zM1606.4 852.1h2v4h-2zM1644.5 14.1h2v4h-2zM1644.5 56.0h2v4h-2zM1644.5 97.9h2v4h-2zM1644.5 139.8h2v4h-2zM1644.5 181.8h2v4h-2zM1644.5 223.7h2v4h-2zM1644.5 265.5h2v4h-2zM1644.5 307.4h2v4h-2zM1644.5 349.3h2v4h-2zM1644.5 391.2h2v4h-2zM1644.5 433.1h2v4h-2zM1644.5 475.0h2v4h-2zM1644.5 516.9h2v4h-2zM1644.5 558.8h2v4h-2zM1644.5 600.8h2v4h-2zM1644.5 642.6h2v4h-2zM1644.5 684.5h2v4h-2zM1644.5 726.4h2v4h-2zM1644.5 768.3h2v4h-2zM1644.5 810.2h2v4h-2zM1644.5 852.1h2v4h-2zM1682.6 14.1h2v4h-2zM1682.6 56.0h2v4h-2zM1682.6 97.9h2v4h-2zM1682.6 139.8h2v4h-2zM1682.6 181.8h2v4h-2zM1682.6 223.7h2v4h-2zM1682.6 265.5h2v4h-2zM1682.6 307.4h2v4h-2zM1682.6 349.3h2v4h-2zM1682.6 391.2h2v4h-2zM1682.6 433.1h2v4h-2zM1682.6 475.0h2v4h-2zM1682.6 516.9h2v4h-2zM1682.6 558.8h2v4h-2zM1682.6 600.8h2v4h-2zM1682.6 642.6h2v4h-2zM1682.6 684.5h2v4h-2zM1682.6 726.4h2v4h-2zM1682.6 768.3h2v4h-2zM1682.6 810.2h2v4h-2zM1682.6 852.1h2v4h-2zM1720.7 14.1h2v4h-2zM1720.7 56.0h2v4h-2zM1720.7 97.9h2v4h-2zM1720.7 139.8h2v4h-2zM1720.7 181.8h2v4h-2zM1720.7 223.7h2v4h-2zM1720.7 265.5h2v4h-2zM1720.7 307.4h2v4h-2zM1720.7 349.3h2v4h-2zM1720.7 391.2h2v4h-2zM1720.7 433.1h2v4h-2zM1720.7 475.0h2v4h-2zM1720.7 516.9h2v4h-2zM1720.7 558.8h2v4h-2zM1720.7 600.8h2v4h-2zM1720.7 642.6h2v4h-2zM1720.7 684.5h2v4h-2zM1720.7 726.4h2v4h-2zM1720.7 768.3h2v4h-2zM1720.7 810.2h2v4h-2zM1720.7 852.1h2v4h-2zM1758.8 14.1h2v4h-2zM1758.8 56.0h2v4h-2zM1758.8 97.9h2v4h-2zM1758.8 139.8h2v4h-2zM1758.8 181.8h2v4h-2zM1758.8 223.7h2v4h-2zM1758.8 265.5h2v4h-2zM1758.8 307.4h2v4h-2zM1758.8 349.3h2v4h-2zM1758.8 391.2h2v4h-2zM1758.8 433.1h2v4h-2zM1758.8 475.0h2v4h-2zM1758.8 516.9h2v4h-2zM1758.8 558.8h2v4h-2zM1758.8 600.8h2v4h-2zM1758.8 642.6h2v4h-2zM1758.8 684.5h2v4h-2zM1758.8 726.4h2v4h-2zM1758.8 768.3h2v4h-2zM1758.8 810.2h2v4h-2zM1758.8 852.1h2v4h-2zM1796.9 14.1h2v4h-2zM1796.9 56.0h2v4h-2zM1796.9 97.9h2v4h-2zM1796.9 139.8h2v4h-2zM1796.9 181.8h2v4h-2zM1796.9 223.7h2v4h-2zM1796.9 265.5h2v4h-2zM1796.9 307.4h2v4h-2zM1796.9 349.3h2v4h-2zM1796.9 391.2h2v4h-2zM1796.9 433.1h2v4h-2zM1796.9 475.0h2v4h-2zM1796.9 516.9h2v4h-2zM1796.9 558.8h2v4h-2zM1796.9 600.8h2v4h-2zM1796.9 642.6h2v4h-2zM1796.9 684.5h2v4h-2zM1796.9 726.4h2v4h-2zM1796.9 768.3h2v4h-2zM1796.9 810.2h2v4h-2zM1796.9 852.1h2v4h-2zM1835.0 14.1h2v4h-2zM1835.0 56.0h2v4h-2zM1835.0 97.9h2v4h-2zM1835.0 139.8h2v4h-2zM1835.0 181.8h2v4h-2zM1835.0 223.7h2v4h-2zM1835.0 265.5h2v4h-2zM1835.0 307.4h2v4h-2zM1835.0 349.3h2v4h-2zM1835.0 391.2h2v4h-2zM1835.0 433.1h2v4h-2zM1835.0 475.0h2v4h-2zM1835.0 516.9h2v4h-2zM1835.0 558.8h2v4h-2zM1835.0 600.8h2v4h-2zM1835.0 642.6h2v4h-2zM1835.0 684.5h2v4h-2zM1835.0 726.4h2v4h-2zM1835.0 768.3h2v4h-2zM1835.0 810.2h2v4h-2zM1835.0 852.1h2v4h-2zM1873.1 14.1h2v4h-2zM1873.1 56.0h2v4h-2zM1873.1 97.9h2v4h-2zM1873.1 139.8h2v4h-2zM1873.1 181.8h2v4h-2zM1873.1 223.7h2v4h-2zM1873.1 265.5h2v4h-2zM1873.1 307.4h2v4h-2zM1873.1 349.3h2v4h-2zM1873.1 391.2h2v4h-2zM1873.1 433.1h2v4h-2zM1873.1 475.0h2v4h-2zM1873.1 516.9h2v4h-2zM1873.1 558.8h2v4h-2zM1873.1 600.8h2v4h-2zM1873.1 642.6h2v4h-2zM1873.1 684.5h2v4h-2zM1873.1 726.4h2v4h-2zM1873.1 768.3h2v4h-2zM1873.1 810.2h2v4h-2zM1873.1 852.1h2v4h-2zM1911.2 14.1h2v4h-2zM1911.2 56.0h2v4h-2zM1911.2 97.9h2v4h-2zM1911.2 139.8h2v4h-2zM1911.2 181.8h2v4h-2zM1911.2 223.7h2v4h-2zM1911.2 265.5h2v4h-2zM1911.2 307.4h2v4h-2zM1911.2 349.3h2v4h-2zM1911.2 391.2h2v4h-2zM1911.2 433.1h2v4h-2zM1911.2 475.0h2v4h-2zM1911.2 516.9h2v4h-2zM1911.2 558.8h2v4h-2zM1911.2 600.8h2v4h-2zM1911.2 642.6h2v4h-2zM1911.2 684.5h2v4h-2zM1911.2 726.4h2v4h-2zM1911.2 768.3h2v4h-2zM1911.2 810.2h2v4h-2zM1911.2 852.1h2v4h-2zM1949.2 14.1h2v4h-2zM1949.2 56.0h2v4h-2zM1949.2 97.9h2v4h-2zM1949.2 139.8h2v4h-2zM1949.2 181.8h2v4h-2zM1949.2 223.7h2v4h-2zM1949.2 265.5h2v4h-2zM1949.2 307.4h2v4h-2zM1949.2 349.3h2v4h-2zM1949.2 391.2h2v4h-2zM1949.2 433.1h2v4h-2zM1949.2 475.0h2v4h-2zM1949.2 516.9h2v4h-2zM1949.2 558.8h2v4h-2zM1949.2 600.8h2v4h-2zM1949.2 642.6h2v4h-2zM1949.2 684.5h2v4h-2zM1949.2 726.4h2v4h-2zM1949.2 768.3h2v4h-2zM1949.2 810.2h2v4h-2zM1949.2 852.1h2v4h-2z"/></svg>

<!-- trigger card -->
<div id="trig"></div>
<svg class="abs" style="left:0;top:0" width="1976" height="878">
  <path d="M106.2 323.2 L110.7 323.2 L101.6 340.7 L119.8 343.3 L92.5 370 L88 370 L96.8 353.1 L78.9 349.8 Z" fill="#f3f4f6" stroke="#f3f4f6" stroke-width="0.6" stroke-linejoin="round"/>
</svg>
<div class="t" style="left:149.8px;top:317.9px;font-size:25px;color:#f4f5f7;">Delete</div>
<div class="t" style="left:151px;top:356.8px;font-size:19.1px;font-weight:bold;color:#a9bbdb;">TRIGGER</div>
<div id="trigIn"></div>
<div class="t" style="left:58.5px;top:436.4px;font-size:24.7px;color:#f4f5f7;">On Playbook Start</div>
<div id="addBtn"></div>
<svg class="abs" style="left:166px;top:498px" width="26" height="26" viewBox="0 0 26 26">
  <circle cx="12.8" cy="12.3" r="12.6" fill="#b9bfca"/>
  <path d="M12.8 5.8v13M6.3 12.3h13" stroke="#1f4583" stroke-width="3.2"/>
</svg>
<div class="t" style="left:205.3px;top:496.3px;font-size:24.7px;color:#f4f5f7;">Add Trigger</div>
<div id="handle"></div>

<!-- command node -->
<div id="node"></div>
<svg class="abs" style="left:631.9px;top:413.8px" width="40" height="40" viewBox="0 0 40 40">
  <path d="M27.5 7.5V32.5A5 5 0 1 0 32.5 27.5H7.5A5 5 0 1 0 12.5 32.5V7.5A5 5 0 1 0 7.5 12.5H32.5A5 5 0 1 0 27.5 7.5" fill="none" stroke="#fff" stroke-width="5" stroke-linecap="round" stroke-linejoin="round"/>
</svg>
<div class="t" style="left:703.6px;top:406.2px;font-size:24.75px;color:#f4f5f7;">Demo Task</div>
<div class="t" style="left:703.5px;top:443.6px;font-size:19px;font-weight:bold;color:#c3bbe2;">COMMAND</div>
<div id="nhandle"></div>
<!-- edge -->
<svg class="abs" style="left:0;top:0" width="1976" height="878">
  <path d="M444 450.1 H515 Q523 450.1 523 442.1 Q523 434.2 531 434.2 H590" fill="none" stroke="#909ca8" stroke-width="1.75"/>
  <path d="M599.8 434.2 L584.9 426.1 L589 434.2 L584.7 442.3 Z" fill="#909ca8" stroke="#909ca8" stroke-width="0.5" stroke-linejoin="round"/>
</svg>


<!-- panel -->
<div id="panel">
  <div id="phead"></div>
  <svg class="abs" style="left:50.8px;top:48.8px" width="42" height="42" viewBox="0 0 40 40">
    <path d="M27.5 7.5V32.5A5 5 0 1 0 32.5 27.5H7.5A5 5 0 1 0 12.5 32.5V7.5A5 5 0 1 0 7.5 12.5H32.5A5 5 0 1 0 27.5 7.5" fill="none" stroke="#fff" stroke-width="5" stroke-linecap="round" stroke-linejoin="round"/>
  </svg>
  <div class="t" style="left:127.5px;top:37px;font-size:25px;font-weight:bold;color:#f1f1f5;">Demo Task</div>
  <div class="t" style="left:128.5px;top:77px;font-size:22px;letter-spacing:-0.5px;color:#d7d4e6;">Command Task</div>
  <div class="hbtn" style="left:676px;"></div>
  <div class="hbtn" style="left:764px;"></div>
  <svg class="abs" style="left:676px;top:38px" width="64" height="64">
    <path d="M20.25 30.45 L29 38.9 L45.6 22.35" fill="none" stroke="#fff" stroke-width="4.1"/>
  </svg>
  <svg class="abs" style="left:764px;top:38px" width="64" height="64">
    <rect x="19.5" y="22.1" width="22.9" height="3.7" fill="#fff"/>
    <path d="M26.9 22.1 V19.3 H35.1 V22.1" fill="none" stroke="#fff" stroke-width="2.6"/>
    <path d="M22.7 25.8 V43 Q22.7 44.8 24.5 44.8 H37.4 Q39.2 44.8 39.2 43 V25.8" fill="none" stroke="#fff" stroke-width="2.6"/>
    <rect x="24" y="25.8" width="13.9" height="16" fill="rgba(255,255,255,0.22)"/>
    <path d="M27.1 25.8V41.8M31 25.8V41.8M35.1 25.8V41.8" fill="none" stroke="#fff" stroke-width="2"/>
  </svg>

  <div class="t lbl" style="left:30.5px;top:194.6px;">Task Name</div>
  <div class="inp" style="top:236.3px;height:63.6px;"></div>
  <div class="t" style="left:48.2px;top:258.6px;font-size:25px;color:#eef0f3;">Demo Task</div>
  <div class="div" style="top:330px;"></div>

  <div class="t lbl" style="left:30.3px;top:371.3px;font-size:25.7px;">Command <span style="color:#e02a2a;margin-left:1.5px;">*</span></div>
  <div class="inp" style="top:410.2px;height:63.3px;width:745px;"></div>
  <svg class="abs" style="left:727px;top:436px" width="17" height="13"><path d="M0.8 0 H16.8 L8.8 12.2Z" fill="#d9dce2"/></svg>
  <div class="abs" style="left:756px;top:402px;width:82px;height:77px;border-radius:20px;border:8px solid #ef5a24;background:#262933;"></div>
  <svg class="abs" style="left:776px;top:435px" width="40" height="13">
    <circle cx="10.9" cy="6.1" r="3.3" fill="#c0c5ce"/><circle cx="21" cy="6.1" r="3.3" fill="#c0c5ce"/><circle cx="31" cy="6.1" r="3.3" fill="#c0c5ce"/>
  </svg>
  <div class="abs" style="left:32px;top:496px;width:796px;height:64px;border-radius:4px;background:#454953;"></div>
  <svg class="abs" style="left:307px;top:513px" width="30" height="30" viewBox="0 0 30 30">
    <circle cx="15.5" cy="15" r="12.95" fill="none" stroke="#b5b8bf" stroke-width="2.7"/>
    <path d="M11.1 11.6V10.8A4.2 4.2 0 1 1 17.8 14.2Q15.5 15.6 15.5 17.4V19" fill="none" stroke="#b5b8bf" stroke-width="4.8"/>
    <rect x="12.9" y="21.2" width="5.2" height="3.7" fill="#b5b8bf"/>
  </svg>
  <div class="t" style="left:346.5px;top:516.7px;font-size:25px;color:#b4b7be;">View Sample Data</div>
  <div class="div" style="top:592px;"></div>

  <div class="cb" style="left:42px;top:650px;"></div>
  <svg class="abs" style="left:42px;top:650px" width="24" height="24"><path d="M5.1 11.3 L9.3 15.7 L18.85 5.8" fill="none" stroke="#272a33" stroke-width="3.5"/></svg>
  <div class="t" style="left:85.3px;top:647.3px;font-size:25.5px;color:#eef0f3;">Active</div>
  <div class="cb" style="left:470px;top:650px;"></div>
  <svg class="abs" style="left:470px;top:650px" width="24" height="24"><path d="M5.1 11.3 L9.3 15.7 L18.85 5.8" fill="none" stroke="#272a33" stroke-width="3.5"/></svg>
  <div class="t" style="left:512.3px;top:647px;font-size:25.7px;color:#eef0f3;">Auto Run</div>

  <div class="t lbl" style="left:30.3px;top:726.3px;font-size:26.3px;">Run Mode</div>
  <div class="inp" style="top:768.1px;height:63.6px;"></div>
  <div class="t" style="left:48.3px;top:786px;font-size:25.7px;color:#e2e4e9;">Wait for Any, Run Always</div>
  <svg class="abs" style="left:791px;top:794px" width="17" height="13"><path d="M0.8 0 H16.8 L8.8 12.2Z" fill="#d9dce2"/></svg>
</div>

</div>
</body></html>
